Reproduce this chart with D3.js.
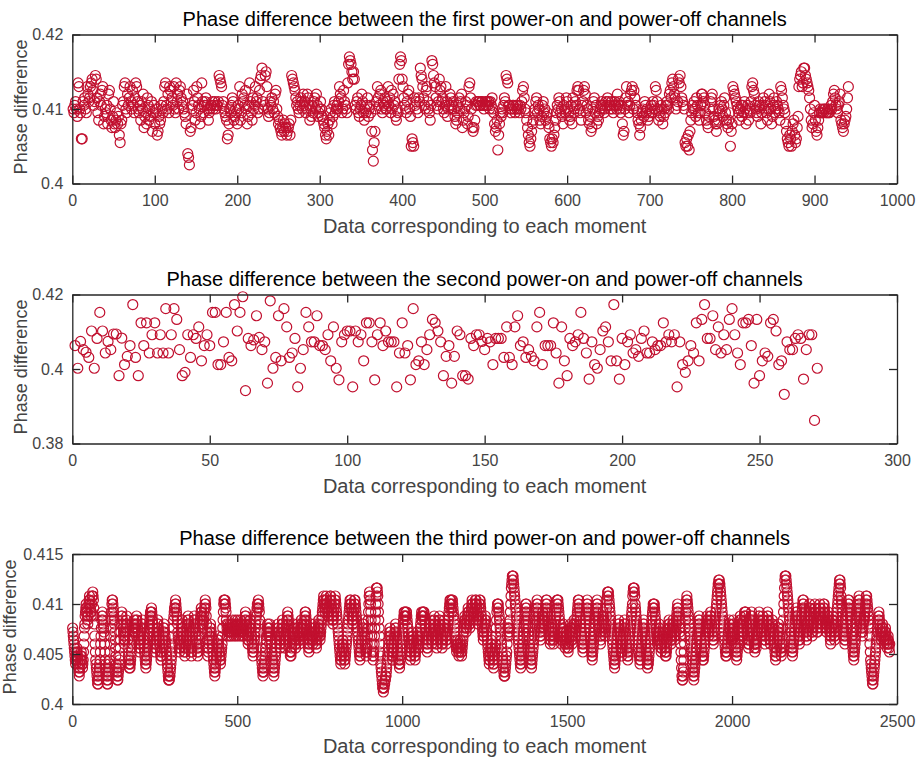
<!DOCTYPE html>
<meta charset="utf-8">
<style>
body { margin: 0; background: #fff; }
svg text { font-family: "Liberation Sans", Arial, sans-serif; }
</style>
<body>
<div id="chart"></div>
<script src="https://d3js.org/d3.v7.min.js"></script>
<script>
var titles = [
  "Phase difference between the first power-on and power-off channels",
  "Phase difference between the second power-on and power-off channels",
  "Phase difference between the third power-on and power-off channels"
];
var xLabel = "Data corresponding to each moment";
var yLabel = "Phase difference";

var xTicks1 = [0, 100, 200, 300, 400, 500, 600, 700, 800, 900, 1000];
var yTicks1 = [0.4, 0.41, 0.42];
var xTicks2 = [0, 50, 100, 150, 200, 250, 300];
var yTicks2 = [0.38, 0.4, 0.42];
var xTicks3 = [0, 500, 1000, 1500, 2000, 2500];
var yTicks3 = [0.4, 0.405, 0.41, 0.415];

// first channel, one char per moment: value = 0.400 + base36(char) * 0.0005
var channel1Levels = [
  "kjlmkirqkjccmlnkjqom", "nqrsplmtsnjhmolpqgik", "jlgopkhfimgfhjgidbgh", "lmqrkjolnqmkpljnrqmk",
  "jlhmkofijgnlhkimejlg", "kjdeighlkjmqrlkojqpm", "nlqkjrmokpqnlmkjigo8", "75efklpmhjqnlkgirmjl",
  "mnlkhjkllmklmkllmtsr", "qlmkjihcdgkjlnmhikjg", "lkqhjomnlpkgilrmjhnk", "lqmnjkpstvmkltuqkijm",
  "lnkmjopkighfedfhegfd", "efgdhtsrqpnlmkjlnmko", "lmjkonlhkiljmnkolijk", "mkihgfdcegdhjkgilmjk",
  "lkmqonjkpmlkjrwyxwus", "uslkmnjiklomjhkjlnik", "lje96bekmqnlopkjmlnk", "kmqlnjpkolmihkjswyxs",
  "qnlkjmopkiacbanlmkjn", "mvtsqnlkpqmkjhlxwtrq", "nlkmspqmnkjlqmiklonk", "lmkighjlnkmofhjkmlgi",
  "qrnkfefhlmlmmllmmlkl", "mlmlmkmlnkjgefh9dgji", "kjlnmtsrllkjkllkjlkl", "kjlkmpqnkjhfdbaceghj",
  "kmnjlkhgilmjkhijgfcb", "acbdfhjlknmjkiglkjnm", "kjhilgnjkmlpqpkjhlmp", "qojlkhgiefkmnjlgihjk",
  "lmkljkmlnmlklmkjlmlk", "olmkjlgdeknqlmjlopqk", "pnlkjhgdfhjkimljkhij", "kljmlkqpmkhjilkgikjl",
  "mlkopnrsqonklmsrtqnm", "lkbacad9ehjlkmkinljh", "jloomnljhgfikmnokihg", "eghkjlmkilnjhgfhjaeg",
  "qponmlkjhkliljmkgjlh", "kjmqrpolkjimlkgjlnkm", "ljhkomkgilnjkmlkjhqp", "nlkjgecbadcaeghdbcfi",
  "qstuqrvvtsrqpnkhfgjl", "hedfhjkjjkjkkjjkjjkl", "kmopnlkjlmohgfeghiknq"
];

var channel2Values = [
  .4063, .4002, .4074, .4052, .4045, .4031, .4102, .4002, .4082, .4152,
  .4102, .4043, .4074, .4052, .4094, .4094, .3982, .4083, .4012, .4034,
  .4063, .4173, .4031, .3982, .4124, .4063, .4124, .4043, .4092, .4124,
  .4043, .4092, .4043, .4162, .4043, .4092, .4162, .4133, .4052, .3982,
  .3991, .4092, .4031, .4092, .4082, .4113, .4022, .4063, .4092, .4063,
  .4152, .4152, .4012, .4012, .4073, .4152, .4031, .4022, .4173, .4102,
  .4152, .4194, .3942, .4082, .4063, .4078, .4143, .4085, .4052, .4073,
  .3962, .4183, .4002, .4031, .4143, .4022, .4162, .4113, .4031, .4043,
  .4082, .3952, .4002, .4052, .4152, .4113, .4073, .4073, .4143, .4063,
  .4063, .4052, .4092, .4022, .4113, .4002, .3971, .4073, .4092, .4102,
  .4102, .3952, .4102, .4073, .4092, .4022, .4124, .4124, .4073, .3971,
  .4092, .4124, .4063, .4102, .4073, .4073, .4073, .3952, .4043, .4124,
  .4043, .4063, .3971, .4162, .4012, .4022, .4073, .4012, .4052, .4092,
  .4133, .4124, .4102, .4073, .3982, .4034, .4063, .3962, .4034, .4102,
  .4092, .3982, .3982, .3973, .4082, .4063, .4092, .4092, .4074, .4052,
  .4082, .4073, .4012, .4082, .4082, .4082, .4031, .4113, .4031, .4012,
  .4113, .4143, .4063, .4073, .4031, .4052, .4034, .4022, .4113, .4152,
  .4012, .4063, .4063, .4063, .4124, .4043, .3962, .4113, .4022, .3982,
  .4082, .4063, .4073, .4092, .4152, .4082, .4043, .3973, .4073, .4012,
  .4002, .4052, .4102, .4113, .4073, .4022, .4173, .4022, .3973, .4082,
  .4012, .4073, .4092, .4043, .4052, .4034, .4082, .4102, .4043, .4043,
  .4073, .4052, .4063, .4063, .4124, .4073, .4092, .4073, .4092, .3952,
  .4073, .4012, .3991, .4022, .4063, .4043, .4124, .4022, .4133, .4173,
  .4082, .4082, .4143, .4052, .4113, .4043, .4092, .4052, .4133, .4162,
  .4092, .4043, .4012, .4124, .4124, .4133, .4063, .3962, .4133, .3982,
  .4022, .4043, .4034, .4124, .4133, .4102, .4012, .4022, .3932, .4073,
  .4052, .4052, .4082, .4092, .4082, .3973, .4052, .4092, .4092, .3862,
  .4002
];

// third channel, one char per moment: value = 0.400 + base36(char) * 0.0004
var channel3Levels = [
  "jihgfedcba", "bcdedcba98", "789abcdcba", "9abdfhjkmn", "oponmlkmop", "qrqponmnpr", "rsrqomkhfd", "ba98765567",
  "89abdfhjlm", "nmlkjihfdb", "a987655678", "9abdfhjlnp", "qqponmlkig", "eca9876678", "9abcegikmn", "mlkjihgfgh",
  "ijklmkigec", "ba9a9abcde", "fghijklkji", "ijklmlkjih", "gfedefghij", "klkjhgfedc", "ba9abcdefg", "hijklmnmno",
  "nmlkjihgfe", "defghijklk", "jihgfedcbc", "defghijkji", "hgfedcba98", "76667789ab", "cdefhjlmno", "opqponmlki",
  "hgfedefghi", "jkljihgfed", "cdefghijkl", "mlkjihgfed", "cdeghijklm", "lkjihgfedc", "defghjklmn", "onmlkjklmn",
  "opqpomkige", "cdefghijkj", "ihgfedcba9", "8789abcdef", "ghgfedcbab", "cdefhjlnpq", "qpqponlkjh", "ijkjihijkj",
  "ihijklkjih", "ijkljihijk", "lkjihijklk", "jihijkjihi", "jklmnmlkji", "hgfghijklk", "jihgfedcde", "fghijklmno",
  "popqponlki", "gecba98788", "9abcdefghi", "jkjihijkji", "hgfedcba98", "789abcdefg", "hijkjihgfe", "fghijklkji",
  "hgfefghijk", "lmnmlkjhfd", "cdcdefghij", "kjihgfefgh", "ijkjihgfgh", "ijklkjihgh", "ijklmnnmlk", "jihgfedefg",
  "hijkjihgfg", "hijkjihgfe", "fghijkljih", "ghijklmnop", "qrqponopqr", "qponmlmnop", "qrrqponmlk", "lmnopqrqpo",
  "nmlkjihgfe", "dcbabcdefg", "fedcbabcde", "fghijklmno", "pqpqponmlk", "lmnopqqpon", "mlkjihgfed", "cbcdefghij",
  "klkjihgfed", "cdefhjlnpr", "srqpnljhfd", "cbcdfhjlnp", "rtttsrpnlj", "hfdca98765", "4434455667", "789abcdefg",
  "hijihgfedc", "bcdefghijk", "jihgfedcba", "a9abcdefgh", "ijklmnmnml", "mnnmlkjihg", "fedcbcdefg", "hihgfedcbc",
  "defghihgfe", "fghijklmnm", "lmnmnnmlkj", "ihgfedefgh", "ijklkjihgf", "ghijklmlkj", "ihgfefghij", "klmlkjihgf",
  "efghijklkj", "ihgfghijkl", "mnopqpqpon", "qqponmlkji", "hgfedefgfe", "dcdefgfedc", "defghijklm", "lkjijklmno",
  "nmlkjklmno", "pqponmlmno", "pqpqponmlk", "lmopqqponm", "lkjihghijk", "lmlkjihgfe", "dcbabcdefg", "fedcba9abc",
  "defhjlnopp", "ponmlkjihg", "fedcba9877", "789abcdfhj", "kjihijlnpr", "tuvwwwvuts", "rqponmlkji", "hgfedcba9a",
  "bcdefghijk", "lmnopponml", "kjihgfedcb", "a9abcdefgh", "ijklmnopqp", "onmlkjihgh", "ijklmnmlkj", "klmnopqqpo",
  "nmlkjihgfg", "hijkjihgfg", "hijklmnopq", "qqponmlkji", "hgfghijkji", "hgfefghihg", "fedefghijk", "jihgfghijk",
  "lkjihijklm", "nopqqponml", "kjihgfedef", "ghijklmnop", "qponmlkjih", "gfedcbcdef", "ghijklmnop", "qponmlkjih",
  "fghijklmnm", "lkjihijkmo", "qrsssrqpon", "mlkjihgfed", "cba9abcdef", "ghijklkjih", "gfedcdefgh", "ijklkjihgf",
  "edcbcdefgh", "ijklmnoprs", "tttsrponml", "kjihgfedcb", "abcdefghij", "klkjihgfed", "cba9aabcde", "fghijklmno",
  "popponmlkj", "ihgfghijki", "hgfedefghi", "jihgfedcdc", "defghijklk", "jihgfghijk", "lkjihghijk", "lmnoponmlk",
  "jihfdb9766", "789bdfhjln", "pqrqponmlk", "jihgfedcba", "9876789abc", "defghijklm", "lkjihgfedc", "bcbcdefghi",
  "jklmlkjihi", "jklmnmlkji", "hgfghijklm", "nopqrstuuv", "vuutsrqpon", "mlkjihgfed", "cdcdefghij", "klkjihgfgh",
  "ijklkjihgf", "edcbcdefgh", "ijklmlkjih", "ghijklmnmn", "nmlkjihgfe", "fghijklmnm", "lkjihgfedf", "gfefghijkl",
  "mnmlkjihij", "klmlkjihgf", "ghijklmnml", "kjihgfghij", "klkjihgfed", "cbcdefghij", "kjihgfedcd", "efhjlnprtv",
  "wwwvutsrqp", "onmlkjihgf", "edcdefghij", "klmnonmlkj", "ihgfghijkl", "mnopqqponm", "lkjihghijk", "lmnoponmlk",
  "jihijklmno", "ponmlkjiij", "klmnoponml", "kjklmnoppo", "nmlkjijklm", "nmlkjihgfh", "ijklmlkjih", "ghijklmnop",
  "qrstuvvutr", "qponmlkjih", "gfghijklmn", "opqqponmlk", "jihgfedcbc", "defghijklm", "nopqrqponm", "lkjihijklm",
  "lmnopqrrqp", "onmlkjhfdb", "a987655678", "9abcdefghi", "jklmnmlkji", "hghijkjihg", "fghijihgfe", "fghgfedf"
];

function decodeLevels(chunks, step) {
  return chunks.join("").split("").map(function(c) {
    return +(0.4 + parseInt(c, 36) * step).toFixed(5);
  });
}

var panels = [
  { title: titles[0], top: 34.5, height: 149, xMax: 1000, xTicks: xTicks1, yDomain: [0.4, 0.42], yTicks: yTicks1,
    values: decodeLevels(channel1Levels, 0.0005), yLabelX: 26.5 },
  { title: titles[1], top: 294.5, height: 149, xMax: 300, xTicks: xTicks2, yDomain: [0.38, 0.42], yTicks: yTicks2,
    values: channel2Values, yLabelX: 26.5 },
  { title: titles[2], top: 554, height: 150, xMax: 2500, xTicks: xTicks3, yDomain: [0.4, 0.415], yTicks: yTicks3,
    values: decodeLevels(channel3Levels, 0.0004), yLabelX: 16 }
];

var W = 917, H = 760;
var left = 72.3, right = 897;
var red = "#c1102f", axisColor = "#262626", textColor = "#444";

var svg = d3.select("#chart").append("svg")
    .attr("width", W)
    .attr("height", H);

function styleAxis(g) {
  g.selectAll(".domain").attr("stroke", axisColor).attr("stroke-width", 1.3);
  g.selectAll(".tick line").attr("stroke", axisColor).attr("stroke-width", 1.3);
  g.selectAll(".tick text")
      .attr("fill", textColor)
      .style("font-size", "16px")
      .style("font-family", '"Liberation Sans", Arial, sans-serif');
}

// matlab style labels: no thousands separator, no trailing zeros
function plainNumber(d) { return String(+d.toFixed(4)); }

panels.forEach(function(p) {
  var bottom = p.top + p.height;
  var x = d3.scaleLinear().domain([0, p.xMax]).range([left, right]);
  var y = d3.scaleLinear().domain(p.yDomain).range([bottom, p.top]);
  var g = svg.append("g");

  g.append("g").selectAll("circle")
    .data(p.values)
    .enter().append("circle")
      .attr("cx", function(d, i) { return x(i + 1); })
      .attr("cy", function(d) { return y(d); })
      .attr("r", 5)
      .attr("fill", "none")
      .attr("stroke", red)
      .attr("stroke-width", 1.2);

  g.append("g")
      .attr("transform", "translate(0," + bottom + ")")
      .call(d3.axisBottom(x).tickValues(p.xTicks).tickSizeInner(-8).tickSizeOuter(0).tickPadding(11.6)
        .tickFormat(plainNumber))
      .call(styleAxis);

  g.append("g")
      .attr("transform", "translate(0," + p.top + ")")
      .call(d3.axisTop(x).tickValues(p.xTicks).tickSizeInner(-8).tickSizeOuter(0).tickFormat(""))
      .call(styleAxis);

  g.append("g")
      .attr("transform", "translate(" + left + ",0)")
      .call(d3.axisLeft(y).tickValues(p.yTicks).tickSizeInner(-8).tickSizeOuter(0).tickPadding(9)
        .tickFormat(plainNumber))
      .call(styleAxis);

  g.append("g")
      .attr("transform", "translate(" + right + ",0)")
      .call(d3.axisRight(y).tickValues(p.yTicks).tickSizeInner(-8).tickSizeOuter(0).tickFormat(""))
      .call(styleAxis);

  g.append("text")
      .attr("x", (left + right) / 2)
      .attr("y", p.top - 9)
      .attr("text-anchor", "middle")
      .attr("fill", "#000")
      .style("font-size", "20px")
      .text(p.title);

  g.append("text")
      .attr("x", (left + right) / 2)
      .attr("y", bottom + 49)
      .attr("text-anchor", "middle")
      .attr("fill", textColor)
      .style("font-size", "20px")
      .text(xLabel);

  g.append("text")
      .attr("transform", "translate(" + p.yLabelX + "," + (p.top + p.height / 2 - 2) + ") rotate(-90)")
      .attr("text-anchor", "middle")
      .attr("fill", textColor)
      .style("font-size", "18px")
      .text(yLabel);
});
</script>
</body>
